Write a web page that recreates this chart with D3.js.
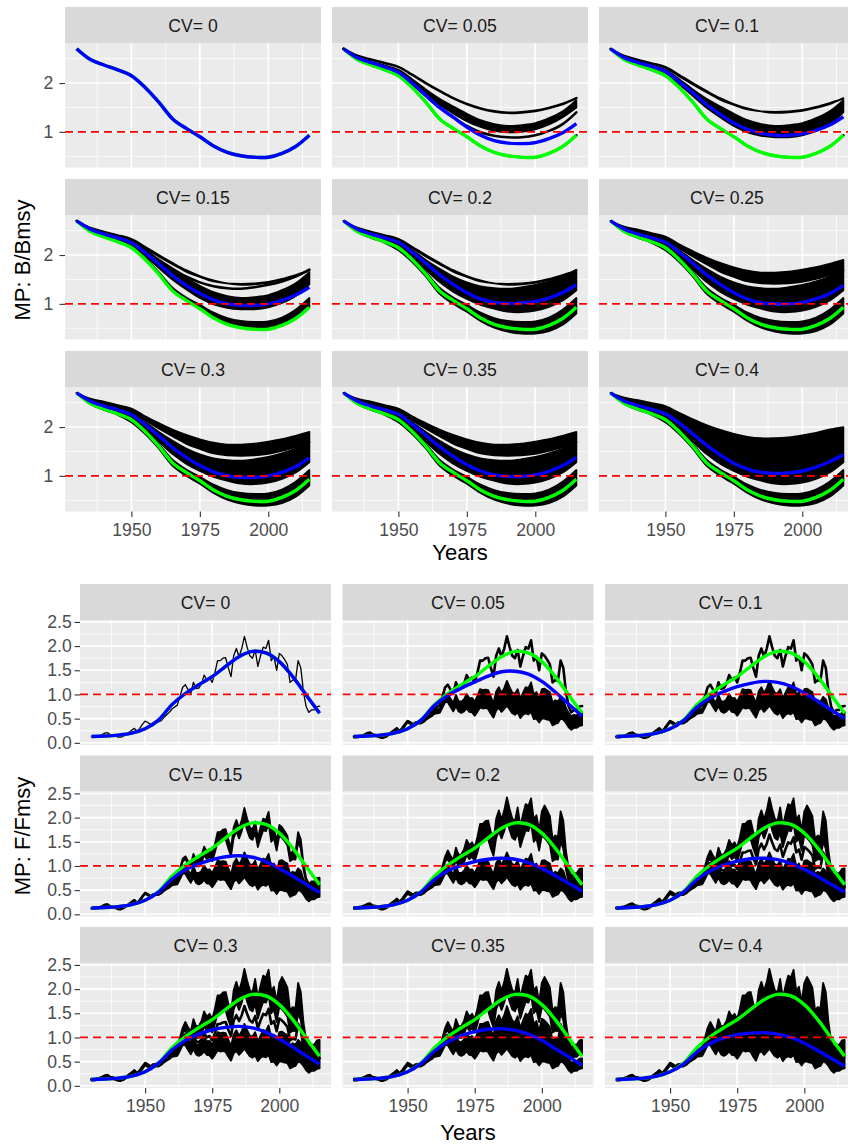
<!DOCTYPE html>
<html><head><meta charset="utf-8">
<script src="https://cdn.jsdelivr.net/npm/d3@7"></script>
<style>body{margin:0;background:#fff}svg{display:block}text{font-family:"Liberation Sans",Arial,sans-serif}</style>
</head><body><svg id="c" width="848" height="1147"></svg>
<script>
// ---------------- DATA ----------------
const cvLabels = ["0","0.05","0.1","0.15","0.2","0.25","0.3","0.35","0.4"];
const years5 = [1930,1935,1940,1945,1950,1955,1960,1965,1970,1975,1980,1985,1990,1995,2000,2005,2010,2015];
const yearsAnnual = d3.range(1930, 2016);
const xTickYears = [1950, 1975, 2000];
const bTickValues = [1, 2];
const fTickValues = [0, 0.5, 1, 1.5, 2, 2.5];

// B/Bmsy (5-year readings)
const bTrue    = [2.70,2.48,2.37,2.27,2.15,1.91,1.61,1.27,1.07,0.90,0.71,0.58,0.51,0.48,0.48,0.56,0.70,0.93];
const bUp05    = [2.70,2.56,2.48,2.41,2.33,2.17,2.00,1.84,1.69,1.57,1.48,1.42,1.39,1.40,1.43,1.49,1.57,1.69];
const bUpHi    = [2.70,2.58,2.52,2.45,2.38,2.22,2.08,1.95,1.84,1.75,1.68,1.64,1.64,1.66,1.70,1.75,1.82,1.90];
const bUpHi4   = [2.70,2.60,2.55,2.49,2.43,2.29,2.16,2.04,1.94,1.86,1.80,1.77,1.77,1.79,1.83,1.88,1.95,2.00];
const bUpLo    = [2.70,2.55,2.46,2.39,2.31,2.14,1.97,1.81,1.66,1.55,1.46,1.42,1.41,1.42,1.45,1.51,1.59,1.68];
const bMid05Hi = [2.70,2.54,2.44,2.36,2.27,2.08,1.87,1.68,1.52,1.37,1.24,1.16,1.12,1.14,1.18,1.28,1.42,1.65];
const bMid05Lo = [2.70,2.53,2.42,2.33,2.22,2.01,1.78,1.56,1.38,1.22,1.10,1.02,0.99,1.00,1.05,1.15,1.30,1.50];
const bMid05Low= [2.70,2.52,2.41,2.31,2.20,1.98,1.74,1.50,1.30,1.12,0.99,0.92,0.89,0.89,0.93,1.02,1.16,1.40];
const bMidHi   = [2.70,2.54,2.45,2.37,2.28,2.10,1.90,1.72,1.56,1.44,1.36,1.32,1.31,1.34,1.39,1.46,1.56,1.70];
const bMidLo   = [2.70,2.52,2.41,2.30,2.18,1.95,1.70,1.45,1.25,1.10,0.98,0.90,0.84,0.83,0.86,0.94,1.07,1.28];
const bLowHi   = [2.70,2.50,2.39,2.29,2.16,1.93,1.65,1.33,1.13,0.98,0.82,0.71,0.65,0.63,0.64,0.72,0.88,1.12];
const bLowLo   = [2.70,2.47,2.35,2.25,2.10,1.86,1.56,1.21,1.00,0.84,0.65,0.51,0.43,0.39,0.39,0.44,0.57,0.80];

const bBlue005 = [2.70,2.52,2.42,2.33,2.22,2.00,1.75,1.50,1.30,1.10,0.93,0.82,0.77,0.76,0.78,0.86,0.98,1.17];
const bBlue010 = [2.70,2.52,2.42,2.34,2.24,2.03,1.80,1.56,1.36,1.18,1.05,0.97,0.93,0.93,0.96,1.03,1.14,1.31];
const bBlue015 = [2.70,2.53,2.43,2.35,2.25,2.05,1.82,1.58,1.38,1.21,1.08,1.00,0.97,0.97,1.00,1.07,1.18,1.34];
const bBlue020 = [2.70,2.53,2.43,2.35,2.26,2.06,1.83,1.60,1.40,1.23,1.10,1.03,1.01,1.02,1.05,1.12,1.23,1.39];
const bBlue025 = [2.70,2.53,2.43,2.35,2.26,2.06,1.83,1.60,1.40,1.23,1.10,1.02,1.00,1.00,1.03,1.10,1.21,1.38];
const bBlue030 = [2.70,2.53,2.43,2.35,2.25,2.05,1.82,1.58,1.38,1.21,1.08,1.00,0.97,0.97,1.00,1.07,1.19,1.37];
const bBlue035 = [2.70,2.53,2.43,2.35,2.26,2.06,1.83,1.60,1.40,1.23,1.10,1.02,0.99,0.99,1.02,1.09,1.21,1.38];
const bBlue040 = [2.70,2.53,2.44,2.36,2.27,2.08,1.86,1.63,1.43,1.26,1.14,1.07,1.05,1.06,1.10,1.18,1.29,1.43];

// F/Fmsy (smooth, 5-year readings)
const fTrue    = [0.13,0.14,0.16,0.20,0.29,0.47,0.79,1.02,1.20,1.37,1.58,1.78,1.89,1.86,1.68,1.37,0.99,0.61];
const fBlue005 = [0.13,0.14,0.16,0.20,0.29,0.47,0.77,0.98,1.13,1.26,1.38,1.47,1.48,1.42,1.27,1.05,0.80,0.55];
const fBlue010 = [0.13,0.14,0.16,0.20,0.29,0.46,0.74,0.93,1.06,1.16,1.23,1.27,1.25,1.17,1.03,0.86,0.68,0.50];
const fBlue015 = [0.13,0.14,0.16,0.20,0.29,0.46,0.73,0.92,1.04,1.13,1.19,1.21,1.18,1.09,0.95,0.79,0.62,0.45];
const fBlue020 = [0.13,0.14,0.16,0.20,0.29,0.46,0.72,0.90,1.01,1.09,1.14,1.16,1.14,1.07,0.95,0.80,0.64,0.48];
const fBlue025 = [0.13,0.14,0.16,0.20,0.29,0.46,0.72,0.90,1.02,1.10,1.15,1.16,1.13,1.05,0.93,0.78,0.62,0.46];
const fBlue030 = [0.13,0.14,0.16,0.20,0.29,0.47,0.74,0.94,1.07,1.16,1.21,1.23,1.20,1.11,0.97,0.80,0.62,0.45];
const fBlue035 = [0.13,0.14,0.16,0.20,0.29,0.46,0.72,0.91,1.04,1.12,1.17,1.18,1.15,1.07,0.94,0.77,0.60,0.43];
const fBlue040 = [0.13,0.14,0.16,0.20,0.29,0.45,0.70,0.88,0.99,1.06,1.09,1.10,1.07,1.00,0.88,0.73,0.57,0.41];

// F/Fmsy (annual readings 1930-2015)
const fObs = [0.13,0.13,0.14,0.15,0.17,0.20,0.21,0.17,0.16,0.14,0.12,0.12,0.14,0.18,0.22,0.26,0.30,0.24,0.30,0.38,0.45,0.42,0.38,0.42,0.43,
 0.43,0.46,0.52,0.58,0.63,0.70,0.74,0.78,0.96,1.15,1.20,1.10,1.02,1.25,1.12,1.13,1.22,1.40,1.30,1.35,1.25,1.45,1.70,1.70,1.75,
 1.76,1.55,1.37,1.80,1.95,1.78,1.95,2.20,1.98,1.80,1.75,1.92,1.58,1.80,1.98,1.95,2.12,1.70,1.78,1.50,
 1.85,1.80,1.72,1.62,1.25,1.30,1.28,1.70,1.55,1.05,0.75,0.63,0.68,0.68,0.75,0.76];
const fUpHi = [0.15,0.15,0.16,0.17,0.19,0.22,0.23,0.19,0.18,0.16,0.14,0.14,0.16,0.20,0.24,0.28,0.33,0.27,0.33,0.41,0.48,0.45,0.41,0.45,0.46,
 0.45,0.48,0.54,0.60,0.66,0.73,0.77,0.81,1.00,1.20,1.32,1.21,1.12,1.38,1.23,1.24,1.34,1.54,1.43,1.49,1.38,1.60,1.87,1.87,1.93,
 1.94,1.71,1.51,1.98,2.15,1.96,2.15,2.42,2.18,1.98,1.93,2.21,1.82,2.07,2.28,2.24,2.40,1.96,2.05,1.73,
 2.13,2.25,2.15,2.03,1.56,1.63,1.60,2.13,1.94,1.31,0.94,0.79,0.85,0.85,0.94,0.95];
const fUpLo = [0.13,0.13,0.14,0.15,0.17,0.20,0.21,0.17,0.16,0.14,0.12,0.12,0.14,0.18,0.22,0.26,0.30,0.24,0.30,0.38,0.45,0.42,0.38,0.42,0.43,
 0.42,0.45,0.50,0.56,0.61,0.67,0.70,0.74,0.91,1.09,1.14,1.05,0.97,1.10,0.99,0.99,1.07,1.23,1.14,1.19,1.10,1.28,1.50,1.50,1.54,
 1.55,1.36,1.21,1.58,1.72,1.57,1.72,1.94,1.74,1.58,1.54,1.69,1.39,1.58,1.74,1.72,1.87,1.50,1.57,1.32,
 1.63,1.58,1.51,1.43,1.10,1.14,1.13,1.50,1.36,0.92,0.66,0.55,0.60,0.60,0.66,0.67];
const fMid = [0.13,0.13,0.14,0.15,0.17,0.20,0.21,0.17,0.16,0.14,0.12,0.12,0.14,0.18,0.22,0.26,0.30,0.24,0.30,0.38,0.45,0.42,0.38,0.42,0.43,
 0.43,0.46,0.52,0.58,0.63,0.67,0.70,0.73,0.88,1.04,1.06,0.95,0.87,1.05,0.92,0.90,0.96,1.09,1.00,1.03,0.94,1.09,1.28,1.28,1.31,
 1.32,1.16,1.03,1.35,1.46,1.34,1.46,1.65,1.49,1.35,1.31,1.44,1.19,1.35,1.49,1.46,1.59,1.28,1.34,1.13,
 1.39,1.35,1.29,1.22,0.94,0.98,0.96,1.28,1.16,0.79,0.56,0.47,0.51,0.51,0.56,0.57];
const fLoHi = [0.13,0.13,0.14,0.15,0.17,0.20,0.21,0.17,0.16,0.14,0.12,0.12,0.14,0.18,0.22,0.26,0.30,0.24,0.30,0.38,0.45,0.42,0.38,0.42,0.43,
 0.43,0.46,0.51,0.56,0.61,0.67,0.69,0.71,0.85,1.00,1.02,0.91,0.83,0.99,0.86,0.85,0.90,1.01,0.92,0.93,0.85,0.97,1.11,1.09,1.10,
 1.09,0.95,0.82,1.06,1.15,1.03,1.13,1.28,1.15,1.04,1.02,1.11,0.92,1.04,1.15,1.13,1.25,1.00,1.05,0.90,
 1.11,1.12,1.08,1.05,0.83,0.88,0.85,0.95,0.90,0.72,0.62,0.55,0.58,0.57,0.62,0.64];
const fLoLo = [0.11,0.11,0.12,0.13,0.15,0.18,0.19,0.15,0.14,0.12,0.10,0.10,0.12,0.16,0.20,0.24,0.27,0.21,0.27,0.35,0.42,0.39,0.35,0.39,0.40,
 0.40,0.43,0.48,0.52,0.55,0.60,0.61,0.62,0.73,0.84,0.84,0.74,0.65,0.76,0.65,0.62,0.65,0.71,0.64,0.63,0.56,0.64,0.73,0.71,0.72,
 0.70,0.60,0.52,0.67,0.72,0.64,0.70,0.77,0.69,0.61,0.58,0.63,0.51,0.58,0.61,0.59,0.64,0.49,0.50,0.42,
 0.50,0.50,0.48,0.47,0.36,0.39,0.41,0.50,0.48,0.41,0.32,0.27,0.31,0.31,0.35,0.36];

// which simulated-trajectory bands appear in each facet ([upper edge, lower edge])
const bBands = [
  [],
  [[bUp05,bUp05],[bMid05Hi,bMid05Lo],[bMid05Low,bMid05Low],[bTrue,bTrue]],
  [[bUpLo,bUp05],[bMid05Hi,bMid05Low],[bTrue,bTrue]],
  [[bUpLo,bUp05],[bMid05Hi,bMid05Low],[bMidHi,bMidHi],[bLowHi,bTrue]],
  [[bUpLo,bUp05],[bMidHi,bMidLo],[bLowHi,bLowLo]],
  [[bUpHi,bUpLo],[bMidHi,bMidLo],[bLowHi,bLowLo]],
  [[bUpHi,bUpLo],[bMidHi,bMidLo],[bLowHi,bLowLo]],
  [[bUpHi,bUpLo],[bMidHi,bMidLo],[bLowHi,bLowLo]],
  [[bUpHi4,bMidLo],[bLowHi,bLowLo]]
];
const bBlue = [bTrue,bBlue005,bBlue010,bBlue015,bBlue020,bBlue025,bBlue030,bBlue035,bBlue040];
const fBands = [
  [[fObs,fObs]],
  [[fObs,fObs],[fLoHi,fLoLo]],
  [[fObs,fObs],[fLoHi,fLoLo]],
  [[fObs,fUpLo],[fLoHi,fLoLo]],
  [[fUpHi,fUpLo],[fLoHi,fLoLo]],
  [[fUpHi,fUpLo],[fMid,fMid],[fLoHi,fLoLo]],
  [[fUpHi,fUpLo],[fMid,fMid],[fLoHi,fLoLo]],
  [[fUpHi,fUpLo],[fMid,fLoLo]],
  [[fUpHi,fLoLo]]
];
const fBlue = [fTrue,fBlue005,fBlue010,fBlue015,fBlue020,fBlue025,fBlue030,fBlue035,fBlue040];

// ---------------- DRAWING ----------------
const svg = d3.select("#c");
svg.append("rect").attr("width",848).attr("height",1147).attr("fill","#fff");
const xDomain = [1925.75, 2019.25];
const xMinor = [1937.5, 1962.5, 1987.5, 2012.5];
const FS = 17.6;
const smooth = d3.curveCatmullRom.alpha(0.5);

function yearsFor(arr){ return arr.length === yearsAnnual.length ? yearsAnnual : years5; }

function drawFigure(o){
  cvLabels.forEach((lab, i) => {
    const r = Math.floor(i/3), c = i % 3;
    const x0 = o.colX[c], sTop = o.stripTop[r], pTop = sTop + o.stripH, pBot = pTop + o.panelH;
    const x = d3.scaleLinear().domain(xDomain).range([x0, x0 + o.colW]);
    const y = d3.scaleLinear().domain(o.yDomain).range([pBot, pTop]);
    const g = svg.append("g");
    const cid = "clip-" + o.id + "-" + i;
    g.append("clipPath").attr("id", cid).append("rect")
      .attr("x", x0).attr("y", pTop).attr("width", o.colW).attr("height", o.panelH);
    g.append("rect").attr("x", x0).attr("y", pTop).attr("width", o.colW).attr("height", o.panelH).attr("fill", "#EBEBEB");
    const grid = g.append("g").attr("stroke", "#fff");
    xMinor.forEach(v => grid.append("line").attr("x1", x(v)).attr("x2", x(v)).attr("y1", pTop).attr("y2", pBot).attr("stroke-width", 0.8));
    o.yMinor.forEach(v => grid.append("line").attr("x1", x0).attr("x2", x0 + o.colW).attr("y1", y(v)).attr("y2", y(v)).attr("stroke-width", 0.8));
    xTickYears.forEach(v => grid.append("line").attr("x1", x(v)).attr("x2", x(v)).attr("y1", pTop).attr("y2", pBot).attr("stroke-width", 1.6));
    o.yTicks.forEach(v => grid.append("line").attr("x1", x0).attr("x2", x0 + o.colW).attr("y1", y(v)).attr("y2", y(v)).attr("stroke-width", 1.6));

    const body = g.append("g").attr("clip-path", "url(#" + cid + ")");
    o.bands[i].forEach(([hi, lo]) => {
      const yrs = yearsFor(hi);
      const area = d3.area().x((d, k) => x(yrs[k])).y0((d, k) => y(lo[k])).y1(d => y(d))
        .curve(yrs === yearsAnnual ? d3.curveLinear : smooth);
      const sw = i === 0 ? 1.3 : (hi === lo ? 2.6 : 1.8);
      body.append("path").datum(hi).attr("d", area).attr("fill", "#000")
        .attr("stroke", "#000").attr("stroke-width", sw).attr("stroke-linejoin", "round");
    });
    const line = d3.line().x((d, k) => x(years5[k])).y(d => y(d)).curve(smooth);
    body.append("path").datum(o.truth).attr("d", line).attr("fill", "none").attr("stroke", "#00FF00").attr("stroke-width", 3.4);
    body.append("path").datum(o.blue[i]).attr("d", line).attr("fill", "none").attr("stroke", "#0000FF").attr("stroke-width", 3.4);
    body.append("line").attr("x1", x0).attr("x2", x0 + o.colW).attr("y1", y(1)).attr("y2", y(1))
      .attr("stroke", "#FF0000").attr("stroke-width", 1.8).attr("stroke-dasharray", "8,5");

    // strip
    g.append("rect").attr("x", x0).attr("y", sTop).attr("width", o.colW).attr("height", o.stripH).attr("fill", "#D9D9D9");
    g.append("text").attr("x", x0 + o.colW/2).attr("y", sTop + 25.3).attr("text-anchor", "middle")
      .attr("font-size", FS).attr("fill", "#1A1A1A").text("CV= " + lab);

    if (r === 2) {
      const ax = g.append("g").attr("transform", "translate(0," + pBot + ")")
        .call(d3.axisBottom(x).tickValues(xTickYears).tickFormat(d3.format("d")).tickSize(5.5).tickPadding(6.5));
      styleAxis(ax);
    }
    if (c === 0) {
      const ay = g.append("g").attr("transform", "translate(" + x0 + ",0)")
        .call(d3.axisLeft(y).tickValues(o.yTicks).tickFormat(o.yFmt).tickSize(5.5).tickPadding(o.yPad));
      styleAxis(ay);
    }
  });
  svg.append("text").attr("x", (o.colX[0] + o.colX[2] + o.colW)/2).attr("y", o.xTitleY).attr("text-anchor", "middle")
    .attr("font-size", 22).attr("fill", "#000").text("Years");
  svg.append("text").attr("transform", "translate(30," + o.yTitleY + ") rotate(-90)").attr("text-anchor", "middle")
    .attr("font-size", 22).attr("fill", "#000").text(o.yTitle);
}
function styleAxis(a){
  a.select(".domain").remove();
  a.selectAll(".tick line").attr("stroke", "#333333").attr("stroke-width", 1.1);
  a.selectAll(".tick text").attr("font-size", FS).attr("fill", "#4D4D4D")
    .attr("font-family", "'Liberation Sans',Arial,sans-serif");
}

drawFigure({
  id: "b", colX: [65, 332, 599], colW: 256, stripTop: [7, 179, 351], stripH: 36, panelH: 124.5,
  yDomain: [0.27, 2.82], yTicks: bTickValues, yMinor: [0.5, 1.5, 2.5], yFmt: d3.format("d"), yPad: 6.2,
  bands: bBands, blue: bBlue, truth: bTrue, xTitleY: 560, yTitle: "MP: B/Bmsy", yTitleY: 260
});
drawFigure({
  id: "f", colX: [80, 342.5, 605], colW: 251, stripTop: [584, 755.5, 927], stripH: 36, panelH: 125,
  yDomain: [-0.045, 2.54], yTicks: fTickValues, yMinor: [0.25, 0.75, 1.25, 1.75, 2.25], yFmt: d3.format(".1f"), yPad: 2.8,
  bands: fBands, blue: fBlue, truth: fTrue, xTitleY: 1140, yTitle: "MP: F/Fmsy", yTitleY: 836
});
</script></body></html>
